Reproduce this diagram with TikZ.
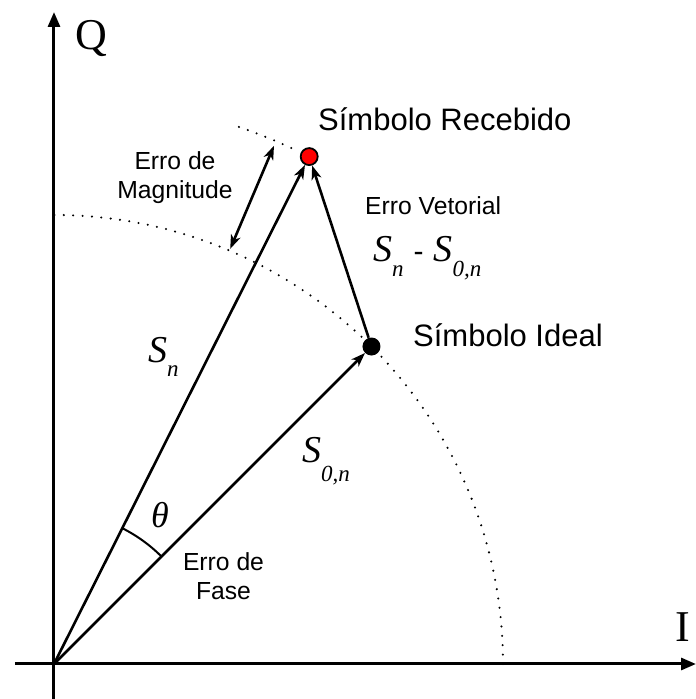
\documentclass[tikz,border=0pt]{standalone}
\usepackage{fontspec}
\setmainfont{Liberation Serif}
\newfontfamily\labelfont{Liberation Sans}
\usetikzlibrary{arrows.meta}

% S with a lowered subscript, as in the vector labels
\newcommand{\vsym}[2][15pt]{{\fontsize{38}{40}\selectfont\itshape S}\raisebox{-#1}{\fontsize{23}{25}\selectfont\itshape #2}}

\begin{document}
\begin{tikzpicture}[x=1pt,y=1pt,
    axis/.style={line width=3pt,-{Triangle[length=15pt,width=12pt]}},
    vec/.style={line width=2.6pt,-{Stealth[length=14pt,width=10pt,inset=4pt]}},
    circdots/.style={line width=2.3pt,line cap=round,dash pattern=on 0pt off 9.4pt},
    biglabel/.style={inner sep=0pt,font=\labelfont\fontsize{31}{36}\selectfont},
    smalllabel/.style={inner sep=0pt,align=center,font=\labelfont\fontsize{24.7}{28.5}\selectfont},
    axislabel/.style={inner sep=0pt,font=\fontsize{44}{44}\selectfont}]
    \useasboundingbox (-54,-35) rectangle (642,664);

    % axes
    \coordinate (O) at (0,0);
    \coordinate (iend) at (642,0);
    \coordinate (istart) at (-39,0);
    \coordinate (qend) at (0,652);
    \coordinate (qstart) at (0,-35);
    \draw[axis] (istart) -- (iend);
    \draw[axis] (qstart) -- (qend);
    \node[axislabel, anchor=base west] (qlab) at (21,614) {Q};
    \node[axislabel, anchor=base west] (ilab) at (621,22) {I};

    % ideal circle and the outer arc
    \draw[circdots] (0:449) arc[start angle=0, end angle=90, radius=449];
    \draw[circdots] (71:568) arc[start angle=71, end angle=64.5, radius=568];

    % symbols
    \node[circle, fill=black, inner sep=0pt, minimum size=18pt] (ideal) at (45:449) {};
    \node[circle, fill=red, draw=black, line width=1.8pt, inner sep=0pt, minimum size=17pt] (recv) at (63.3:568) {};

    % vectors
    \draw[vec] (O) -- (ideal);
    \draw[vec] (O) -- (recv);
    \draw[vec] (ideal) -- (recv);

    % magnitude error
    \coordinate (m1) at (67:451);
    \coordinate (m2) at (67:563);
    \draw[line width=2.6pt,{Stealth[length=14pt,width=10pt,inset=4pt]}-{Stealth[length=14pt,width=10pt,inset=4pt]}] (m1) -- (m2);

    % phase angle
    \draw[line width=2pt] (45:152) arc[start angle=45, end angle=63.3, radius=152];
    \node[inner sep=0pt, font=\fontsize{36}{36}\selectfont\itshape] (theta) at (106,149) {θ};

    % labels
    \node[biglabel, anchor=base west] (recvlab) at (264,533) {Símbolo Recebido};
    \node[biglabel, anchor=base west] (ideallab) at (359,317) {Símbolo Ideal};
    \node[smalllabel, anchor=base west] (veclab) at (311,449) {Erro Vetorial};
    \node[inner sep=0pt, anchor=base west] (diff) at (319,402) {\vsym{n}\hspace{10pt}{\fontsize{30}{30}\selectfont\labelfont -}\hspace{10pt}\vsym{0,n}};
    \node[smalllabel] (maglab) at (121,486.5) {Erro de\\Magnitude};
    \node[smalllabel] (phaselab) at (169.5,88) {Erro de\\Fase};
    \node[inner sep=0pt, anchor=base west] (snlab) at (94,301) {\vsym[14pt]{n}};
    \node[inner sep=0pt, anchor=base west] (s0lab) at (248,201) {\vsym[19pt]{0,n}};
\end{tikzpicture}
\end{document}
